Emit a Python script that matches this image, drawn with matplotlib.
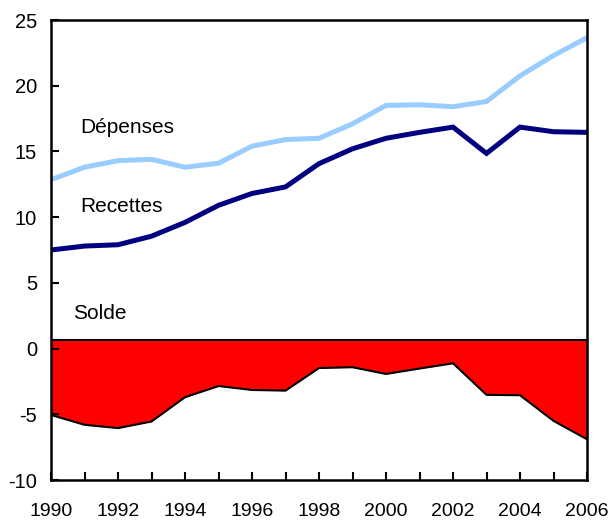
import matplotlib
matplotlib.use("Agg")
import matplotlib.pyplot as plt
import numpy as np

years = list(range(1990, 2007))
depenses = [12.85, 13.8, 14.3, 14.4, 13.8, 14.1, 15.4, 15.9, 16.0, 17.1, 18.5, 18.55, 18.4, 18.8, 20.75, 22.3, 23.65]
recettes = [7.5, 7.8, 7.9, 8.55, 9.6, 10.9, 11.8, 12.3, 14.07, 15.2, 16.0, 16.45, 16.85, 14.85, 16.85, 16.5, 16.45]
solde = [-5.05, -5.8, -6.05, -5.55, -3.7, -2.85, -3.15, -3.2, -1.48, -1.42, -1.93, -1.52, -1.12, -3.52, -3.55, -5.5, -6.9]
solde_base = 0.65
yticks = [-10, -5, 0, 5, 10, 15, 20, 25]
xlabels = [str(y) if y % 2 == 0 else "" for y in years]

plt.rcParams['font.family'] = ['Liberation Sans', 'DejaVu Sans']
plt.rcParams['axes.unicode_minus'] = False

fig = plt.figure(figsize=(6.12, 5.21), dpi=100)
ax = fig.add_axes([51/612, 1-480/521, (587-51)/612, (480-20)/521])

ax.fill_between(years, solde_base, solde, color='#FF0000', linewidth=0, zorder=1)
ax.plot(years, solde, color='black', linewidth=1.5, zorder=3)
ax.axhline(solde_base, color='black', linewidth=1.5, zorder=3)
ax.plot(years, depenses, color='#99CCFF', linewidth=3.6, zorder=2, solid_joinstyle='miter')
ax.plot(years, recettes, color='#000080', linewidth=3.6, zorder=2, solid_joinstyle='miter')

ax.set_xlim(1990, 2006)
ax.set_ylim(-10, 25)
ax.set_yticks(yticks)
ax.set_xticks(years)
ax.set_xticklabels(xlabels)

for s in ax.spines.values():
    s.set_linewidth(1.8)
    s.set_color('black')

ax.tick_params(axis='x', direction='in', length=6, width=1.5, labelsize=14, pad=16.5)
ax.tick_params(axis='y', direction='in', length=6, width=1.5, labelsize=14.5, pad=10)

ax.text(1990.87, 16.8, "Dépenses", fontsize=15, va='center', ha='left')
ax.text(1990.87, 10.8, "Recettes", fontsize=15, va='center', ha='left')
ax.text(1990.66, 2.7, "Solde", fontsize=15, va='center', ha='left')

fig.savefig("out.png", dpi=100)
